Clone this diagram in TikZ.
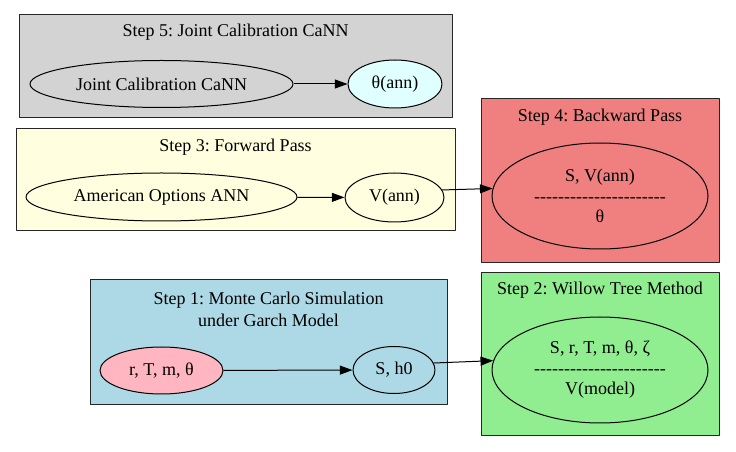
\documentclass[tikz,border=0pt]{standalone}
\usepackage{fontspec}
\setmainfont{Liberation Serif}
\usetikzlibrary{shapes.geometric, arrows.meta}
\definecolor{gvgray}{RGB}{211,211,211}
\definecolor{gvyellow}{RGB}{255,255,224}
\definecolor{gvcoral}{RGB}{240,128,128}
\definecolor{gvgreen}{RGB}{144,238,144}
\definecolor{gvblue}{RGB}{173,216,230}
\definecolor{gvpink}{RGB}{255,182,193}
\definecolor{gvcyan}{RGB}{224,255,255}
\newcommand\dashrow{\foreach \i in {1,...,22}{\hbox{-}}}
\frenchspacing
\begin{document}
\begin{tikzpicture}[x=0.75pt, y=-0.75pt, line join=round, >={Triangle[length=9.5pt, width=6.75pt]},
		font=\fontsize{13.5}{15.4}\selectfont,
		oval/.style 2 args={ellipse, draw=black, line width=0.75pt, inner sep=0pt, align=center, minimum width=#1, minimum height=#2},
		title/.style={inner sep=0pt, align=center},
		link/.style={->, line width=0.75pt}]
	\useasboundingbox (0,0) rectangle (736,452);
	\fill[white] (0,0) rectangle (736,452);
	% clusters
	\foreach \xa/\ya/\xb/\yb/\col in {19/15/452/118/gvgray, 16/129/455/231/gvyellow, 481/99/719/263/gvcoral, 481/273/719/436/gvgreen, 90/280/447/405/gvblue} {
		\filldraw[fill=\col, draw=black!85, line width=0.75pt] (\xa,\ya) rectangle (\xb,\yb);
	}
	\node[title] (t5) at (235.5,32) {Step 5: Joint Calibration CaNN};
	\node[title] (t3) at (235.5,147) {Step 3: Forward Pass};
	\node[title] (t4) at (600,117) {Step 4: Backward Pass};
	\node[title] (t2) at (600,290) {Step 2: Willow Tree Method};
	\node[title, font=\fontsize{13.5}{16}\selectfont] (t1) at (268.5,309.5) {Step 1: Monte Carlo Simulation\\under Garch Model};
	% nodes
	\node[oval={197.25pt}{35.25pt}] (jcc) at (161.5,84) {Joint Calibration CaNN};
	\node[oval={70.5pt}{36pt}, fill=gvcyan] (thann) at (395,84) {θ(ann)};
	\node[oval={203.25pt}{36pt}] (aoa) at (161.5,197) {American Options ANN};
	\node[oval={74.25pt}{36.75pt}] (vann) at (394.5,197.5) {V(ann)};
	\node[oval={162pt}{79.5pt}] (bwd) at (600,196) {S, V(ann)\\\dashrow\\θ};
	\node[oval={162pt}{79.5pt}] (wtm) at (600,370) {S, r, T, m, θ, ζ\\\dashrow\\V(model)};
	\node[oval={92.25pt}{35.25pt}, fill=gvpink] (rtm) at (161.5,370.5) {r, T, m, θ};
	\node[oval={61.5pt}{35.25pt}] (sh0) at (394,370) {S, h0};
	% edges
	\draw[link] (jcc) -- (thann);
	\draw[link] (aoa) -- (vann);
	\draw[link] (vann.9) -- (bwd.176);
	\draw[link] (rtm) -- (sh0);
	\draw[link] (sh0.10) -- (wtm.175);
\end{tikzpicture}
\end{document}
